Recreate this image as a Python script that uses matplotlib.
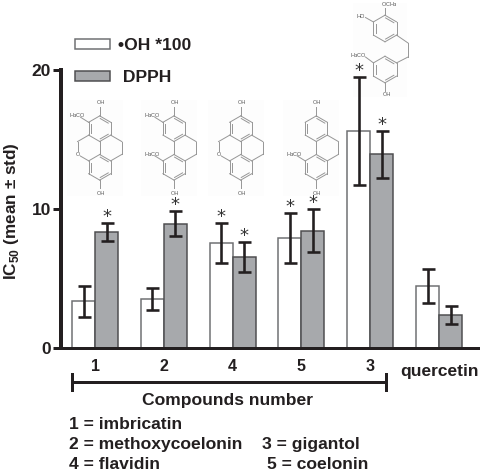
import numpy as np
import matplotlib
matplotlib.use("Agg")
from matplotlib import pyplot as plt
from matplotlib.patches import Rectangle

plt.rcParams['font.family'] = ['Liberation Sans', 'DejaVu Sans']
plt.rcParams['font.weight'] = 'bold'
plt.rcParams['mathtext.fontset'] = 'custom'
plt.rcParams['mathtext.rm'] = 'Liberation Sans:bold'
plt.rcParams['mathtext.bf'] = 'Liberation Sans:bold'

W, H = 483, 473
dark = '#231f20'
line_grey = '#969696'
box_grey = '#fdfdfd'

categories = ['1', '2', '4', '5', '3', 'quercetin']
oh_values = [3.35, 3.5, 7.55, 7.9, 15.65, 4.45]
oh_err = [1.1, 0.8, 1.45, 1.8, 3.9, 1.2]
dpph_values = [8.35, 8.95, 6.55, 8.45, 13.95, 2.35]
dpph_err = [0.63, 0.92, 1.08, 1.58, 1.7, 0.67]
oh_star = [False, False, True, True, True, False]
dpph_star = [True, True, True, True, True, False]
name_lines = [
    (69, 424, '1 = imbricatin'),
    (69, 444, '2 = methoxycoelonin'),
    (262, 444, '3 = gigantol'),
    (69, 464.5, '4 = flavidin'),
    (267, 464.5, '5 = coelonin'),
]


def px(v):
    # pixels to points at dpi 100
    return v * 0.72


fig = plt.figure(figsize=(W / 100, H / 100), dpi=100)

# overlay in pixel coordinates for the drawings and free text
ov = fig.add_axes([0, 0, 1, 1])
ov.set_xlim(0, W)
ov.set_ylim(H, 0)
ov.axis('off')

left, right, bottom, top = 60.5, 478, 347.7, 70.5
ax = fig.add_axes([left / W, 1 - bottom / H, (right - left) / W, (bottom - top) / H])
ax.patch.set_alpha(0)
step = 68.8
ax.set_xlim((left - 95) / step, (right - 95) / step)
ax.set_ylim(0, 20)

x = np.arange(len(categories))
bw = 23 / step
err_style = dict(ecolor=dark, elinewidth=px(2.6), capsize=px(6.5), capthick=px(2.6))
b1 = ax.bar(x - bw / 2, oh_values, bw, color='white', edgecolor='#6d6e71', linewidth=px(1.5),
            yerr=oh_err, error_kw=err_style, label='\u2022OH *100')
b2 = ax.bar(x + bw / 2, dpph_values, bw, color='#a7a9ac', edgecolor='#4d4d4f', linewidth=px(1.5),
            yerr=dpph_err, error_kw=err_style, label=' DPPH')


def star(xpos, ypos):
    ax.annotate('*', (xpos, ypos), xytext=(0, px(-3)), textcoords='offset points',
                ha='center', va='bottom', fontsize=13, family='DejaVu Sans',
                fontweight='normal', color='#333333')


for i in range(len(categories)):
    if oh_star[i]:
        star(x[i] - bw / 2, oh_values[i] + oh_err[i])
    if dpph_star[i]:
        star(x[i] + bw / 2, dpph_values[i] + dpph_err[i])

for s in ['top', 'right']:
    ax.spines[s].set_visible(False)
ax.spines['left'].set_linewidth(px(4))
ax.spines['left'].set_color(dark)
ax.spines['bottom'].set_linewidth(px(3))
ax.spines['bottom'].set_color(dark)
ax.set_yticks([0, 10, 20])
ax.tick_params(axis='y', length=px(8), width=px(3), color=dark, labelsize=12.5, pad=1, labelcolor=dark)
ax.set_xticks(x)
ax.set_xticklabels(categories)
ax.tick_params(axis='x', length=0, labelsize=11.5, pad=px(11), labelcolor=dark)
ax.get_xticklabels()[-1].set_y(-0.02)
ax.get_xticklabels()[-1].set_fontsize(12.5)

leg = ax.legend(handles=[b1, b2], loc='upper left', bbox_to_anchor=(75 / W, 1 - 38 / H),
                bbox_transform=fig.transFigure, frameon=False, fontsize=12.6,
                handlelength=2.0, handleheight=0.5, handletextpad=0.45, labelspacing=1.0,
                borderpad=0, borderaxespad=0, labelcolor=dark)

ov.text(12, 211, 'IC$_{50}$ (mean $\\pm$ std)', rotation=90, ha='center', va='center',
        fontsize=12.3, color=dark)

# bracket under compounds
ov.plot([72, 386], [382.3, 382.3], color=dark, lw=px(3), solid_capstyle='butt')
ov.plot([72, 72], [374, 390], color=dark, lw=px(3))
ov.plot([386, 386], [374, 390], color=dark, lw=px(3))
ov.text(227, 400, 'Compounds number', ha='center', va='center', fontsize=12.6, color=dark)
for tx, ty, s in name_lines:
    ov.text(tx, ty, s, ha='left', va='center', fontsize=12.6, color=dark)


def ring(cx, cy, R=12.8, doubles=(0, 2, 4), skip=()):
    a = np.radians(-90 + 60 * np.arange(6))
    vx, vy = cx + R * np.cos(a), cy + R * np.sin(a)
    for i in range(6):
        j = (i + 1) % 6
        if i in skip:
            continue
        ov.plot([vx[i], vx[j]], [vy[i], vy[j]], color=line_grey, lw=0.7)
        if i in doubles:
            dx, dy = (vx[j] - vx[i]) * 0.36, (vy[j] - vy[i]) * 0.36
            ix = cx + (vx[i] + vx[j] - 2 * cx) * 0.41
            iy = cy + (vy[i] + vy[j] - 2 * cy) * 0.41
            ov.plot([ix - dx, ix + dx], [iy - dy, iy + dy], color=line_grey, lw=0.7)


def bond(x0, y0, x1, y1):
    ov.plot([x0, x1], [y0, y1], color=line_grey, lw=0.7)


def chem(tx, ty, s, ha='center'):
    ov.text(tx, ty, s, ha=ha, va='center', fontsize=4, color='#555555', fontweight='normal')


def phenanthrene(cx, upper_ome, lower_ome, pyran):
    R = 12.8
    ty, by = 128.7, 167.3
    dx = R * np.cos(np.radians(30))
    ov.add_patch(Rectangle((cx - 33, 100), 56, 95.5, fc=box_grey, ec='none'))
    ring(cx, ty, R)
    ring(cx, by, R)
    # saturated ring on the right, shared edges left out
    ring(cx + dx, (ty + by) / 2, R, doubles=(), skip=(3, 4, 5))
    bond(cx, ty + R, cx, by - R)
    if pyran:
        ring(cx - dx, (ty + by) / 2, R, doubles=(), skip=(0, 1, 2))
        ov.text(cx - 2 * dx, 154.5, 'O', ha='center', va='center', fontsize=4, color='#555555',
                fontweight='normal', bbox=dict(fc=box_grey, ec='none', pad=0.3))
    bond(cx, ty - R, cx, ty - R - 9)
    chem(cx + 1, 102.5, 'OH')
    bond(cx, by + R, cx, by + R + 8)
    chem(cx + 1, 193, 'OH')
    if upper_ome:
        bond(cx - dx, ty - R / 2, cx - dx - 8, ty - R / 2 - 5)
        chem(cx - dx - 11, 115.5, 'H$_3$CO')
    if lower_ome:
        bond(cx - dx, by - R / 2, cx - dx - 8, by - R / 2 - 5)
        chem(cx - dx - 11, 154.5, 'H$_3$CO')


phenanthrene(99.7, True, False, True)
phenanthrene(174, True, True, False)
phenanthrene(240.7, False, False, True)
phenanthrene(316.3, False, True, False)

# gigantol
gx = 240 + 435 / 3
ov.add_patch(Rectangle((352.7, 3), 54, 94, fc=box_grey, ec='none'))
ring(gx, 28.5, 13.3)
ring(gx, 69.5, 13.3)
rr = 13.3 * np.cos(np.radians(30))
bond(gx + rr, 28.5 + 6.6, gx + 2 * rr, 43)
bond(gx + 2 * rr, 43, gx + 2 * rr, 57)
bond(gx + 2 * rr, 57, gx + rr, 62.9)
bond(gx, 15.2, gx, 8)
chem(gx + 4, 4.8, 'OCH$_3$')
bond(gx - rr, 22, gx - rr - 8, 17.5)
chem(gx - rr - 13, 17, 'HO')
bond(gx - rr, 62.9, gx - rr - 8, 57)
chem(gx - rr - 15, 56, 'H$_3$CO')
bond(gx, 82.8, gx, 91)
chem(gx + 1.5, 95, 'OH')

fig.savefig('out.png', dpi=100)
